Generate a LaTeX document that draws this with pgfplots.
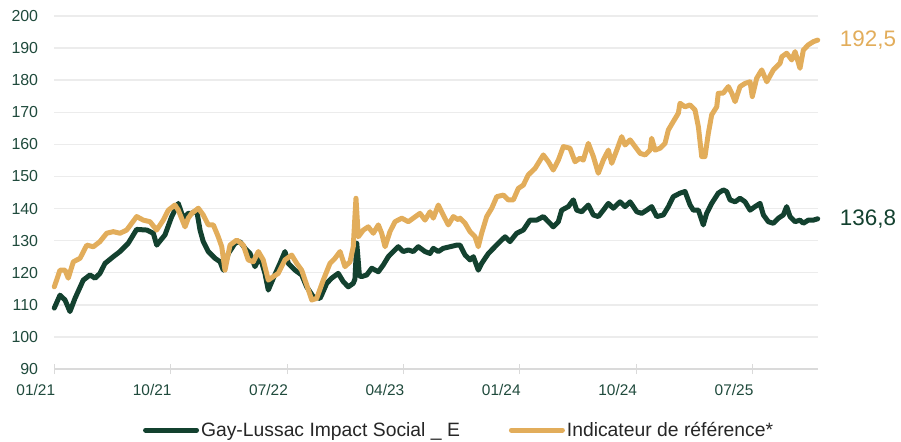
\documentclass[border=0pt]{standalone}
\usepackage{pgfplots}
\pgfplotsset{compat=1.18}
\usepackage{fontspec}
\setmainfont{Liberation Sans}
\definecolor{fundgreen}{HTML}{13412F}
\definecolor{refgold}{HTML}{E2AD5B}
\definecolor{ticktxt}{HTML}{1F4A3C}
\definecolor{gridc}{HTML}{ECECEC}
\definecolor{axisgray}{HTML}{DADADA}
\begin{document}
\begin{tikzpicture}[x=1bp,y=1bp]
\path (0,0) rectangle (901,-442);
\begin{axis}[
  at={(54.3bp,-369bp)}, anchor=south west,
  scale only axis, width=763.4bp, height=353bp,
  xmin=0, xmax=59.04, ymin=90, ymax=200,
  clip=false,
  axis x line*=bottom, axis y line*=left,
  separate axis lines,
  x axis line style={draw=axisgray, line width=1.2bp, -},
  y axis line style={draw=none},
  ytick style={draw=none},
  xtick style={draw=axisgray, line width=1bp},
  major tick length=10bp, tick align=center,
  ymajorgrids, grid style={gridc, line width=1.5bp},
  ytick={90,100,...,200},
  xtick={0,9,18,27,36,45,54},
  xticklabels={01/21,10/21,07/22,04/23,01/24,10/24,07/25},
  /pgf/number format/assume math mode=true,
  x tick label style={anchor=north east, inner sep=0pt, yshift=-10bp, xshift=1bp, font=\fontsize{15.5}{15.5}\selectfont, text=ticktxt},
  y tick label style={anchor=east, inner sep=0pt, xshift=-11bp, font=\fontsize{16}{16}\selectfont, text=ticktxt},
  legend style={draw=none, fill=none, at={(0.116,-0.173)}, anchor=west, legend columns=2, inner sep=0pt,
    font=\fontsize{19.4}{19.4}\selectfont, text=black!85,
    /tikz/every even column/.append style={column sep=47bp}},
  legend cell align=left,
  legend image code/.code={\draw[#1, line width=5bp, line cap=round] (0bp,0bp) -- (51bp,0bp);},
]
\addplot[fundgreen, line width=5bp, line join=round, line cap=round] coordinates {
(0,109) (0.44,113) (0.83,111.5) (1.21,107.9) (1.60,112) (2.24,117.7) (2.76,119.3) (3.15,118.3) (3.53,119.8) (3.92,122.9) (4.56,125) (5.08,126.6) (5.72,129.2) (6.37,133.5) (7.15,133.3) (7.66,132.3) (7.92,128.6) (8.56,131.8) (9.08,137.5) (9.59,141.6) (9.98,137) (10.36,138.5) (10.63,138.5) (11.01,139.5) (11.27,133.3) (11.52,129.7) (11.91,126.6) (12.43,124.5) (12.82,123.4) (13.07,120.8) (13.46,126) (13.98,129.2) (14.36,129.7) (14.75,127.6) (15.14,126) (15.52,121.9) (15.91,125) (16.29,119.8) (16.55,114.6) (16.94,118.3) (17.45,122.9) (17.84,126.6) (18.10,122.9) (18.62,120.8) (19.13,119.3) (19.52,115.6) (20.03,112.5) (20.55,112) (20.68,113.1) (21.07,116.7) (21.45,118.3) (21.96,119.8) (22.35,117.2) (22.74,115.6) (23.12,116.7) (23.25,118) (23.39,129.2) (23.6,119) (23.77,118.8) (24.16,119.3) (24.55,121.4) (25.06,120.3) (25.44,122.4) (25.83,125) (26.22,126.6) (26.60,128.1) (26.99,126.6) (27.38,127.1) (27.76,126.6) (28.15,128.1) (28.67,126.6) (29.06,126) (29.31,127.6) (29.70,126.6) (30.08,127.6) (30.60,128.1) (31.12,128.6) (31.38,128.6) (31.77,125.5) (32.15,124) (32.41,125) (32.79,120.8) (33.05,122.9) (33.57,126) (34.08,128.1) (34.47,129.7) (34.86,131.2) (35.24,129.7) (35.76,132.3) (36.27,133.3) (36.79,136.4) (37.31,136.4) (37.82,137.5) (38.21,135.9) (38.59,134.3) (38.98,135.9) (39.24,139.5) (39.75,140.6) (40.14,142.7) (40.40,139.5) (40.79,139) (41.30,141.1) (41.69,138) (42.07,137.5) (42.46,139.5) (42.85,141.6) (43.23,140.1) (43.75,142.1) (44.14,140.6) (44.53,142.1) (45.05,139) (45.43,138.5) (45.82,139.5) (46.20,140.6) (46.59,137.5) (47.10,138) (47.49,140.6) (47.87,143.7) (48.39,144.8) (48.78,145.3) (49.17,141.1) (49.42,139.5) (49.81,139.5) (50.19,134.9) (50.45,138.5) (50.84,141.6) (51.35,144.8) (51.74,145.8) (52.0,145.3) (52.26,142.7) (52.65,142.1) (53.03,143.2) (53.42,142.1) (53.81,139.5) (54.19,140.6) (54.58,141.6) (54.84,138) (55.22,135.9) (55.61,135.4) (56.00,137) (56.38,138) (56.64,140.6) (56.90,137.5) (57.29,135.9) (57.67,136.4) (57.93,135.4) (58.31,136.4) (58.70,136.4) (59.04,136.8)
};
\addlegendentry{Gay-Lussac Impact Social \_ E}
\addplot[refgold, line width=5bp, line join=round, line cap=round] coordinates {
(0,115.6) (0.44,120.8) (0.83,120.8) (1.08,118.3) (1.47,123.4) (1.99,124.5) (2.51,128.6) (3.02,128.1) (3.53,129.7) (4.05,132.3) (4.56,132.8) (5.08,132.3) (5.60,133.3) (6.37,137.5) (6.88,136.4) (7.40,135.9) (7.92,133.3) (8.43,136.4) (8.82,139.5) (9.33,141.1) (9.59,139.5) (10.11,134.3) (10.36,137) (10.63,138.5) (11.14,140.1) (11.52,138) (11.91,134.9) (12.30,134.9) (12.68,131.2) (12.95,128.1) (13.20,120.8) (13.59,128.6) (14.11,130.2) (14.62,128.6) (15.00,124) (15.39,123.4) (15.78,126.6) (16.16,124) (16.55,117.7) (16.94,118.8) (17.32,119.8) (17.84,124) (18.36,125.5) (18.75,122.9) (19.13,120.8) (19.52,116.2) (19.91,111.5) (20.29,112) (20.80,117.7) (21.32,122.9) (21.71,124.5) (22.10,126.6) (22.48,121.9) (22.87,123.4) (23.12,128.1) (23.33,143.2) (23.51,131.2) (23.90,133.3) (24.28,134.3) (24.67,132.3) (25.06,134.9) (25.32,132.3) (25.58,128.1) (25.96,132.8) (26.35,135.9) (26.87,137) (27.38,135.9) (27.76,137) (28.28,138.5) (28.67,136.4) (29.06,139) (29.31,137) (29.70,141.1) (30.08,138) (30.47,134.9) (30.86,137.5) (31.25,136.5) (31.38,137) (31.77,135.4) (32.15,132.8) (32.54,131.2) (32.79,128.1) (33.05,132.3) (33.44,137.5) (33.83,140.1) (34.22,143.7) (34.73,144.2) (35.11,142.7) (35.50,142.7) (35.89,146.3) (36.27,147.3) (36.66,150.5) (37.18,152.5) (37.82,156.7) (38.21,154.6) (38.59,152) (38.98,155.1) (39.37,159.3) (39.88,158.8) (40.27,154.6) (40.66,155.7) (40.91,155.1) (41.30,160.3) (41.69,156.2) (42.07,151) (42.46,155.1) (42.85,158.2) (43.11,154.1) (43.50,158.2) (43.88,162.4) (44.14,159.8) (44.53,161.4) (44.92,159.3) (45.31,157.2) (45.69,156.7) (46.07,158.2) (46.20,161.9) (46.46,158.2) (46.85,158.8) (47.23,160.3) (47.49,164.5) (47.87,167.1) (48.26,169.7) (48.39,172.8) (48.78,171.7) (49.17,172.3) (49.55,170.7) (49.81,165.5) (50.07,156.2) (50.32,156.2) (50.58,163.4) (50.84,169.2) (51.23,171.7) (51.35,175.9) (51.74,176) (52.13,178) (52.4,175.9) (52.65,173.3) (53.03,178) (53.42,179) (53.81,179.5) (53.98,174.9) (54.32,180.6) (54.71,183.2) (55.10,179.5) (55.61,183.2) (56.13,185.3) (56.26,187.3) (56.64,188.4) (57.03,186.3) (57.29,188.9) (57.67,183.7) (57.93,189.4) (58.31,191) (58.70,192) (59.04,192.5)
};
\addlegendentry{Indicateur de référence*}
\node[anchor=west, inner sep=0pt, text=refgold, font=\fontsize{22.5}{22.5}\selectfont] at (axis cs:59.04,192.5) [xshift=22bp] {192,5};
\node[anchor=west, inner sep=0pt, text=fundgreen, font=\fontsize{22.5}{22.5}\selectfont] at (axis cs:59.04,136.8) [xshift=22bp] {136,8};
\end{axis}
\end{tikzpicture}
\end{document}
